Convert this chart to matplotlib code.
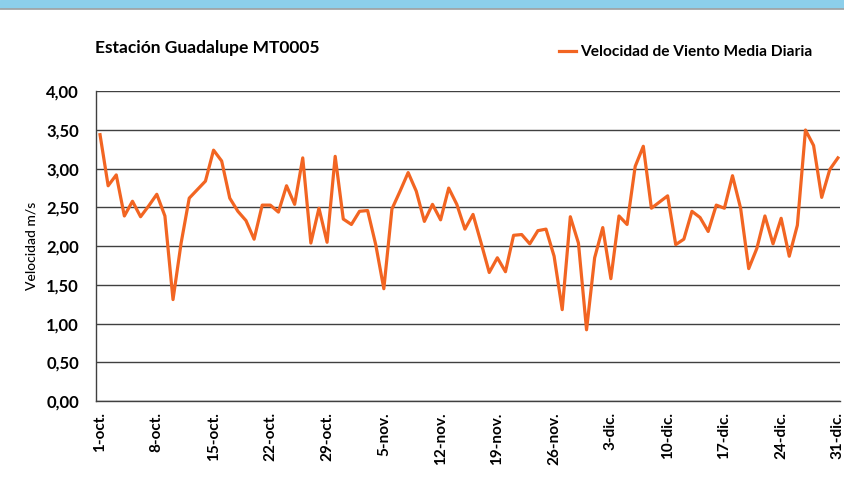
import matplotlib
matplotlib.use('Agg')
import matplotlib.pyplot as plt
import numpy as np
import datetime as dt

# velocidad media diaria (m/s), 1-oct al 31-dic
vel = [3.44, 2.78, 2.92, 2.39, 2.58, 2.38, 2.52, 2.67, 2.39, 1.31,
       2.04, 2.62, 2.73, 2.84, 3.24, 3.10, 2.62, 2.45, 2.33, 2.09,
       2.53, 2.53, 2.44, 2.78, 2.54, 3.14, 2.04, 2.49, 2.05, 3.16,
       2.35, 2.28, 2.45, 2.46, 2.02, 1.45, 2.48, 2.71, 2.95, 2.71,
       2.32, 2.54, 2.34, 2.75, 2.54, 2.22, 2.41, 2.04, 1.66, 1.85,
       1.67, 2.14, 2.15, 2.03, 2.20, 2.22, 1.87, 1.18, 2.38, 2.04,
       0.92, 1.85, 2.24, 1.58, 2.39, 2.28, 3.03, 3.29, 2.49, 2.57,
       2.65, 2.02, 2.09, 2.45, 2.37, 2.19, 2.53, 2.49, 2.91, 2.49,
       1.71, 1.97, 2.39, 2.03, 2.36, 1.87, 2.27, 3.50, 3.30, 2.63,
       2.99, 3.14]

meses = {10: 'oct.', 11: 'nov.', 12: 'dic.'}
inicio = dt.date(2000, 10, 1)
fechas = [inicio + dt.timedelta(days=i) for i in range(len(vel))]
x = np.arange(len(vel))
tick_pos = x[::7]
tick_lab = ['%d-%s' % (fechas[i].day, meses[fechas[i].month]) for i in tick_pos]
yticks = np.arange(0, 4.01, 0.5)
ytick_lab = [('%.2f' % v).replace('.', ',') for v in yticks]

plt.rcParams['font.family'] = ['Lato', 'DejaVu Sans']

fig = plt.figure(figsize=(8.45, 4.79), dpi=100)
# banda azul superior
fig.patches.append(plt.Rectangle((0, 1 - 8/479.), 1, 8/479., transform=fig.transFigure,
                                 color='#8ccfeb', zorder=0))
fig.lines.append(plt.Line2D([0, 1], [1 - 9/479.]*2, transform=fig.transFigure,
                            color='#a0a0a0', lw=1.2))

ax = fig.add_axes([0.1133, 0.1628, 0.8807, 0.6466])
ax.plot(x, vel, color='#f26522', lw=2.3, label='Velocidad de Viento Media Diaria')

ax.set_ylim(0, 4)
ax.set_xlim(-0.53, 91.25)
ax.set_yticks(yticks)
ax.set_yticklabels(ytick_lab, fontsize=12, fontweight='bold')
ax.set_xticks(tick_pos)
ax.set_xticklabels(tick_lab, rotation=90, fontsize=11, fontweight='bold')
ax.tick_params(axis='both', length=0)
ax.tick_params(axis='x', pad=8)
ax.tick_params(axis='y', pad=12)

ax.grid(axis='y', color='#404040', lw=1)
ax.set_axisbelow(True)
for s in ['top', 'right']:
    ax.spines[s].set_visible(False)
for s in ['left', 'bottom']:
    ax.spines[s].set_color('#404040')
    ax.spines[s].set_linewidth(1)

ax.set_ylabel('Velocidad m/s', fontsize=10, labelpad=6, fontweight='medium')

fig.text(0.113, 0.9, 'Estación Guadalupe MT0005', fontsize=12.5, fontweight='bold',
         va='center', ha='left')
ax.legend(loc='center left', bbox_to_anchor=(0.604, 1.126), frameon=False,
          handlelength=1.1, handletextpad=0.25,
          prop={'weight': 'bold', 'size': 11.2})

fig.savefig('out.png', dpi=100)
